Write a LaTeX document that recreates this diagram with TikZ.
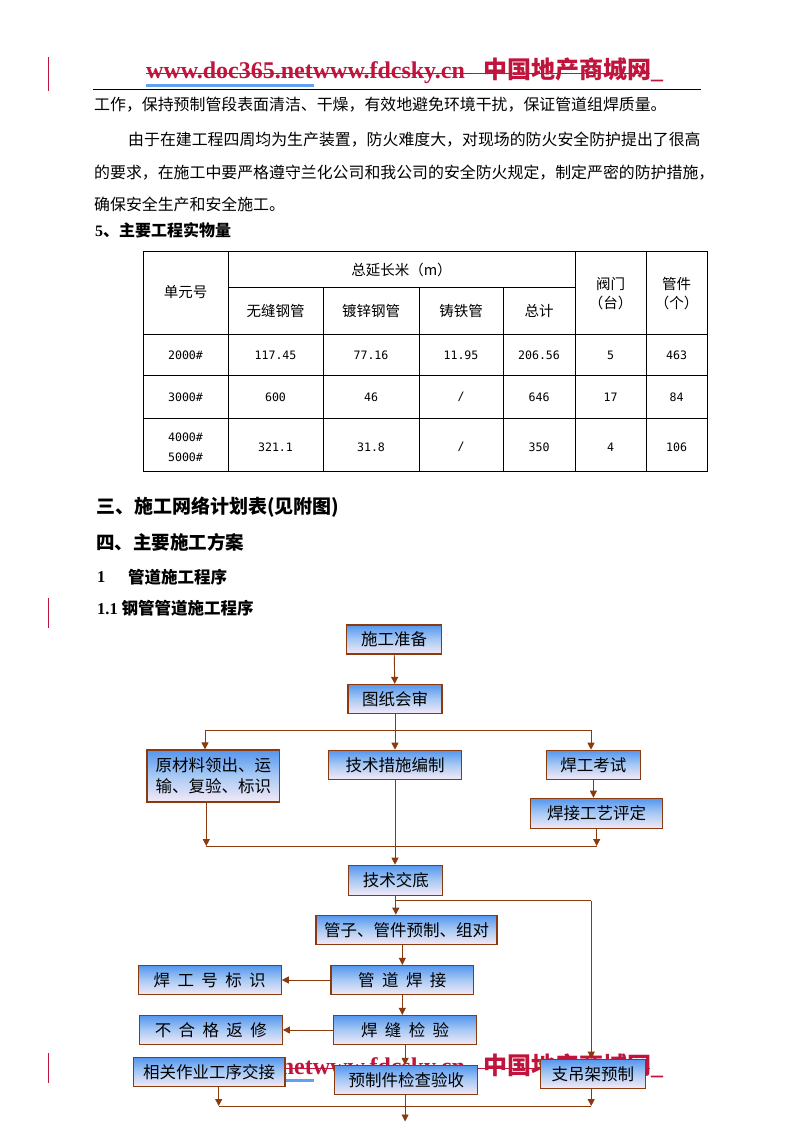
\documentclass[tikz,border=0pt]{standalone}
\usepackage{fontspec}
\setmainfont{Noto Sans CJK SC}
\newfontfamily\boxfont{Noto Sans CJK SC}[WordSpace=2]
\newfontfamily\numfont{DejaVu Sans Mono}
\newfontfamily\latfont{Liberation Serif}
\usetikzlibrary{arrows.meta}

\definecolor{marron}{HTML}{8B3A0E}
\definecolor{carmesi}{HTML}{C0143C}
\definecolor{azulsub}{HTML}{62A0F0}
\definecolor{cajaarriba}{HTML}{5496EE}
\definecolor{cajamedio}{HTML}{A9CAF4}
\definecolor{cajaabajo}{HTML}{F4E9F6}

\tikzset{
  paso/.style={draw=marron, line width=1.2pt, top color=cajaarriba, bottom color=cajaabajo,
    middle color=cajamedio, minimum height=29pt, inner sep=0pt,
    font=\boxfont\fontsize{16.5}{21}\selectfont},
  flecha/.style={marron, line width=0.9pt, -{Triangle[width=7pt,length=7pt]}},
  linea/.style={marron, line width=0.9pt},
  celda/.style={inner sep=0pt, align=center, font=\fontsize{14.5}{19}\selectfont},
  cifra/.style={inner sep=0pt, align=center, font=\numfont\fontsize{11.6}{20}\selectfont},
  cuerpo/.style={anchor=west, inner sep=0pt, font=\fontsize{15.9}{18}\selectfont},
  titulo/.style={anchor=west, inner sep=0pt, font=\bfseries\fontsize{16.5}{18}\selectfont},
}

\begin{document}
\begin{tikzpicture}[x=1pt,y=-1pt]
  \useasboundingbox (0,0) rectangle (794,1123);
  \fill[white] (0,0) rectangle (794,1123);

  % Marcas rojas del margen
  \foreach \ya/\yb in {57/91,598/628,1053/1083}
    \draw[carmesi, line width=1.2pt] (48.5,\ya) -- (48.5,\yb);

  % Cabecera (repetida abajo)
  \foreach \dy in {0,995} {
    \draw[azulsub, line width=2.5pt] (146,85.5+\dy) -- (314,85.5+\dy);
    \node[anchor=base west, inner sep=0pt, text=carmesi,
      font=\latfont\bfseries\fontsize{24}{24}\selectfont] (web\dy) at (146,79+\dy)
      {www.doc365.netwww.fdcsky.cn};
    \node[anchor=base west, inner sep=0pt, text=carmesi,
      font=\bfseries\fontsize{24}{24}\selectfont] (sitio\dy) at (483,79+\dy)
      {中国地产商城网{\latfont\_}};
    \draw[carmesi, line width=1.4pt] (146,73.5+\dy) -- (650,73.5+\dy);
  }
  \draw[line width=1.3pt] (93,89.5) -- (701,89.5);

  % Texto
  \node[cuerpo] (parrafo1) at (94,105) {工作，保持预制管段表面清洁、干燥，有效地避免环境干扰，保证管道组焊质量。};
  \node[cuerpo] (parrafo2) at (128,140) {由于在建工程四周均为生产装置，防火难度大，对现场的防火安全防护提出了很高};
  \node[cuerpo] (parrafo3) at (94,173) {的要求，在施工中要严格遵守兰化公司和我公司的安全防火规定，制定严密的防护措施，};
  \node[cuerpo] (parrafo4) at (94,204) {确保安全生产和安全施工。};
  \node[titulo, font=\bfseries\fontsize{16}{18}\selectfont] (tit5) at (95,230) {{\latfont 5}、主要工程实物量};

  % Tabla
  \draw[line width=0.9pt] (143,251) rectangle (707,471);
  \foreach \x in {228,575,646} \draw[line width=0.9pt] (\x,251) -- (\x,471);
  \foreach \x in {323,419,503} \draw[line width=0.9pt] (\x,287) -- (\x,471);
  \draw[line width=0.9pt] (228,287) -- (575,287);
  \foreach \y in {334,375,418} \draw[line width=0.9pt] (143,\y) -- (707,\y);

  \node[celda] (unidad) at (185.5,292.5) {单元号};
  \node[celda] (longitud) at (401.5,270) {总延长米（m）};
  \node[celda] (valvula) at (610.5,293.5) {阀门\\（台）};
  \node[celda] (pieza) at (676.5,293.5) {管件\\（个）};
  \node[celda] (sincostura) at (275.5,311) {无缝钢管};
  \node[celda] (galvanizado) at (371,311) {镀锌钢管};
  \node[celda] (fundicion) at (461,311) {铸铁管};
  \node[celda] (total) at (539,311) {总计};

  \node[cifra] (u2000) at (185.5,355) {2000\#};
  \node[cifra] (a2000) at (275.5,355) {117.45};
  \node[cifra] (b2000) at (371,355) {77.16};
  \node[cifra] (c2000) at (461,355) {11.95};
  \node[cifra] (t2000) at (539,355) {206.56};
  \node[cifra] (v2000) at (610.5,355) {5};
  \node[cifra] (p2000) at (676.5,355) {463};

  \node[cifra] (u3000) at (185.5,397) {3000\#};
  \node[cifra] (a3000) at (275.5,397) {600};
  \node[cifra] (b3000) at (371,397) {46};
  \node[cifra] (c3000) at (461,397) {/};
  \node[cifra] (t3000) at (539,397) {646};
  \node[cifra] (v3000) at (610.5,397) {17};
  \node[cifra] (p3000) at (676.5,397) {84};

  \node[cifra] (u4000) at (185.5,447) {4000\#\\5000\#};
  \node[cifra] (a4000) at (275.5,447) {321.1};
  \node[cifra] (b4000) at (371,447) {31.8};
  \node[cifra] (c4000) at (461,447) {/};
  \node[cifra] (t4000) at (539,447) {350};
  \node[cifra] (v4000) at (610.5,447) {4};
  \node[cifra] (p4000) at (676.5,447) {106};

  % Titulos
  \node[titulo, font=\bfseries\fontsize{19}{20}\selectfont] (tit3) at (96,507) {三、施工网络计划表(见附图)};
  \node[titulo, font=\bfseries\fontsize{18.5}{20}\selectfont] (tit4) at (96,542) {四、主要施工方案};
  \node[titulo] (tit1n) at (97,577) {\latfont 1};
  \node[titulo] (tit1) at (128,577) {管道施工程序};
  \node[titulo] (tit11) at (97,608) {{\latfont 1.1} 钢管管道施工程序};

  % Diagrama de flujo
  \node[paso, minimum width=95pt] (preparacion) at (394,639.5) {施工准备};
  \node[paso, minimum width=94pt] (planos) at (395,699) {图纸会审};
  \node[paso, minimum width=132.5pt, minimum height=52pt, align=center] (material) at (213.3,776) {原材料领出、运\\输、复验、标识};
  \node[paso, minimum width=133pt] (medidas) at (395,764.8) {技术措施编制};
  \node[paso, minimum width=94pt] (examen) at (593.4,764.8) {焊工考试};
  \node[paso, minimum width=132pt, minimum height=30pt] (proceso) at (596.5,813.3) {焊接工艺评定};
  \node[paso, minimum width=94pt, minimum height=30pt] (consigna) at (395.8,880.3) {技术交底};
  \node[paso, minimum width=181pt] (prefab) at (406.5,929.8) {管子、管件预制、组对};
  \node[paso, minimum width=142.6pt] (soldadura) at (402.3,980) {管 道 焊 接};
  \node[paso, minimum width=143pt] (marca) at (209.7,980) {焊 工 号 标 识};
  \node[paso, minimum width=142.6pt] (control) at (405.1,1030) {焊 缝 检 验};
  \node[paso, minimum width=143pt] (reparo) at (210.8,1030) {不 合 格 返 修};
  \node[paso, minimum width=151.6pt] (entrega) at (209.2,1072) {相关作业工序交接};
  \node[paso, minimum width=143pt] (recepcion) at (406.3,1080) {预制件检查验收};
  \node[paso, minimum width=105pt] (soporte) at (592.9,1073.8) {支吊架预制};

  % Conexiones
  \coordinate (repartoL) at (205,730);
  \coordinate (repartoR) at (591,730);
  \coordinate (unionL) at (206.3,846);
  \coordinate (unionR) at (596.7,846);
  \coordinate (desvio) at (591.2,900.7);
  \coordinate (cierreL) at (218.7,1106);
  \coordinate (cierreR) at (591.2,1106);
  \coordinate (salida) at (405.1,1121.5);

  \draw[flecha] (preparacion) -- (planos);
  \draw[linea] (planos.south) -- (planos.south |- repartoL);
  \draw[linea] (repartoL) -- (repartoR);
  \draw[flecha] (repartoL) -- (repartoL |- material.north);
  \draw[flecha] (planos.south |- repartoL) -- (medidas.north);
  \draw[flecha] (repartoR) -- (repartoR |- examen.north);
  \draw[flecha] (examen.south) -- (examen.south |- proceso.north);

  \draw[flecha] (material.south -| unionL) -- (unionL);
  \draw[flecha] (proceso.south -| unionR) -- (unionR);
  \draw[linea] (unionL) -- (unionR);
  \draw[flecha] (medidas.south) -- (medidas.south |- consigna.north);

  \draw[flecha] (consigna.south) -- (consigna.south |- prefab.north);
  \draw[linea] (consigna.south |- desvio) -- (desvio);
  \draw[flecha] (desvio) -- (desvio |- soporte.north);

  \draw[flecha] (soldadura.north |- prefab.south) -- (soldadura.north);
  \draw[flecha] (soldadura.west) -- (marca.east);
  \draw[flecha] (soldadura.south) -- (soldadura.south |- control.north);
  \draw[flecha] (control.west) -- (reparo.east);
  \draw[flecha] (control.south) -- (control.south |- recepcion.north);

  \draw[flecha] (entrega.south -| cierreL) -- (cierreL);
  \draw[flecha] (soporte.south -| cierreR) -- (cierreR);
  \draw[linea] (cierreL) -- (cierreR);
  \draw[flecha] (recepcion.south -| salida) -- (salida);
\end{tikzpicture}
\end{document}
